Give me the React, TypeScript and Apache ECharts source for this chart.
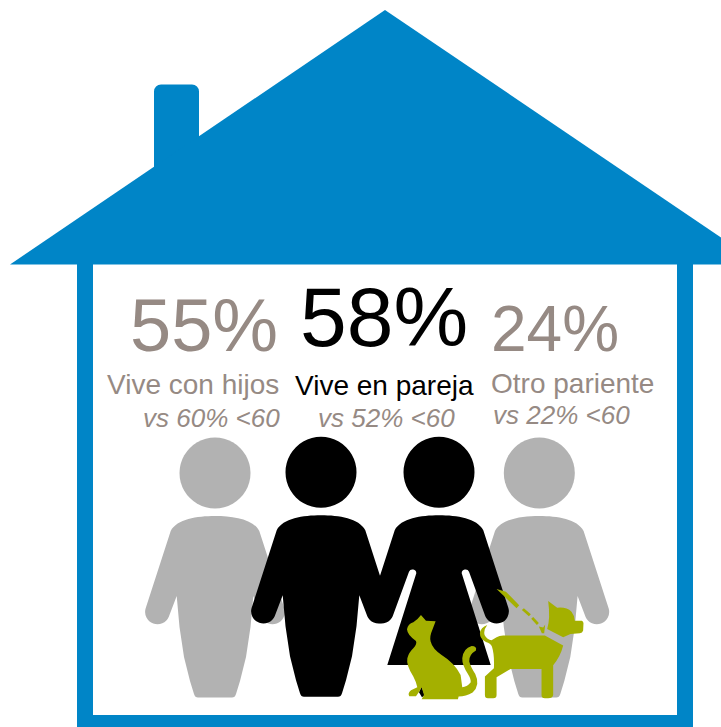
import React, { useEffect, useRef } from "react";
import * as echarts from "echarts";

const percentages = ["55%", "58%", "24%"];
const labels = ["Vive con hijos", "Vive en pareja", "Otro pariente"];
const comparisons = ["vs 60% <60", "vs 52% <60", "vs 22% <60"];

const BLUE = "#0085C7";
const GRAY = "#B2B2B2";
const TAUPE = "#968A84";
const OLIVE = "#A4B000";

const manPath =
  "M0 0 C18 0 38 3 44.3 15 L69.4 92.6 A12.3 12.3 0 0 1 46.3 100.9 L38.3 80 L35.5 111 L31 141 L25 165 L21 178 Q20 181.5 17 181.5 L-17 181.5 Q-20 181.5 -21 178 L-25 165 L-31 141 L-35.5 111 L-38.3 80 L-46.3 100.9 A12.3 12.3 0 0 1 -69.4 92.6 L-44.3 15 C-38 3 -18 0 0 0 Z";
const womanPath =
  "M0 0 C18 0 38 3 44.3 15 L69.4 92.6 A12.3 12.3 0 0 1 46.3 100.9 L30 56.5 A3.8 3.8 0 0 0 22.7 58 L51.7 149.7 L-51.7 149.7 L-22.7 58 A3.8 3.8 0 0 0 -30 56.5 L-46.3 100.9 A12.3 12.3 0 0 1 -69.4 92.6 L-44.3 15 C-38 3 -18 0 0 0 Z";
const catPath =
  "M63 105 L78 122 L107 124 L97 150 Q88 170 92 185 Q98 208 125 225 Q165 250 182 285 L187 322 Q200 322 212 308 Q214 298 204 282 Q186 255 187 235 Q190 205 215 198 Q232 198 228 212 Q206 225 208 245 Q212 262 226 282 Q242 315 218 338 Q198 350 176 350 L174 358 L65 358 L72 345 L65 322 L58 335 L48 349 L28 349 Q22 340 33 331 L52 322 Q48 305 40 290 Q18 255 22 235 Q26 218 40 205 Q52 192 48 183 Q22 165 21 148 Q24 132 40 127 Q52 120 63 105 Z";
const catGapPath = "M65 320 L74 346 L66 352 L57 337 Z";
const dogBodyPath =
  "M262 135 Q250 150 254 165 Q262 180 275 181 L290 172 Q298 167 310 167 L435 167 L490 197 Q482 230 460 256 L460 345 Q458 355 445 355 L435 355 Q425 355 425 345 L425 267 L332 267 L290 292 L290 345 Q290 355 280 355 L264 355 Q255 355 255 345 L255 290 L282 265 Q284 225 276 200 Q272 190 258 186 Q240 178 240 160 Q242 142 262 135 Z";
const dogHeadPath =
  "M445 63 L472 83 Q500 80 515 95 Q525 108 525 122 L546 122 Q551 124 551 130 L550 152 Q548 160 540 160 L512 162 L490 172 L442 147 Q452 115 445 63 Z";
const leashPath =
  "M290 27 L318 35 L358 76 L350 85 L316 52 Z M366 90 L372 85 L393 103 L387 109 Z M394 116 L400 111 L417 129 L411 135 Z M417 140 L430 143 L436 134 L433 160 L426 160 Z";

echarts.graphic.registerShape("man", echarts.graphic.extendPath(manPath, {}));
echarts.graphic.registerShape("woman", echarts.graphic.extendPath(womanPath, {}));
echarts.graphic.registerShape("cat", echarts.graphic.extendPath(catPath, {}));
echarts.graphic.registerShape("catGap", echarts.graphic.extendPath(catGapPath, {}));
echarts.graphic.registerShape("dogBody", echarts.graphic.extendPath(dogBodyPath, {}));
echarts.graphic.registerShape("dogHead", echarts.graphic.extendPath(dogHeadPath, {}));
echarts.graphic.registerShape("leash", echarts.graphic.extendPath(leashPath, {}));

const rect = (x: number, y: number, width: number, height: number, r: any = 0) => ({
  type: "rect",
  shape: { x, y, width, height, r },
  style: { fill: BLUE },
});
const head = (cx: number, cy: number, fill: string) => ({
  type: "circle",
  shape: { cx, cy, r: 35.5 },
  style: { fill },
});
const body = (type: string, x: number, y: number, fill: string) => ({
  type,
  x,
  y,
  style: { fill },
});
const pet = (type: string, fill = OLIVE) => ({
  type,
  x: 400,
  y: 580,
  scaleX: 1 / 3,
  scaleY: 1 / 3,
  style: { fill },
});
const text = (
  t: string,
  x: number,
  y: number,
  fontSize: number,
  fill: string,
  italic = false
) => ({
  type: "text",
  x,
  y,
  style: {
    text: t,
    fill,
    fontSize,
    fontFamily: "Liberation Sans",
    fontStyle: italic ? "italic" : "normal",
    fontWeight: 400,
    textAlign: "left",
    verticalAlign: "middle",
  },
});

export default function App() {
  const ref = useRef<HTMLDivElement>(null);
  useEffect(() => {
    const chart = echarts.init(ref.current!, undefined, { renderer: "svg" });
    chart.setOption({
      animation: false,
      backgroundColor: "#ffffff",
      graphic: {
        elements: [
          rect(154, 84.5, 45, 100, [7, 7, 0, 0]),
          {
            type: "polygon",
            shape: { points: [[385, 10], [10, 264.5], [761, 264.5]] },
            style: { fill: BLUE },
          },
          rect(77, 264, 16, 463),
          rect(677, 264, 16, 463),
          rect(77, 715, 616, 12),
          text(percentages[0], 130, 325, 74, TAUPE),
          text(percentages[1], 300, 317, 84, "#000000"),
          text(percentages[2], 491, 329, 64, TAUPE),
          text(labels[0], 107, 384, 28, TAUPE),
          text(labels[1], 295, 385, 28, "#000000"),
          text(labels[2], 491, 383, 28, TAUPE),
          text(comparisons[0], 143, 418, 26, TAUPE, true),
          text(comparisons[1], 318, 418, 26, TAUPE, true),
          text(comparisons[2], 493, 415, 26, TAUPE, true),
          head(215, 473, GRAY),
          body("man", 215, 516, GRAY),
          head(539.3, 473, GRAY),
          body("man", 539.3, 516, GRAY),
          head(321, 472.3, "#000000"),
          body("man", 321, 515.3, "#000000"),
          head(439, 472.3, "#000000"),
          body("woman", 439, 515.3, "#000000"),
          pet("catGap", "#000000"),
          pet("cat"),
          pet("dogBody"),
          pet("dogHead"),
          pet("leash"),
        ],
      },
    });
    return () => chart.dispose();
  }, []);
  return (
    <div
      ref={ref}
      style={{ position: "absolute", left: 0, top: 0, width: 721, height: 727 }}
    />
  );
}
